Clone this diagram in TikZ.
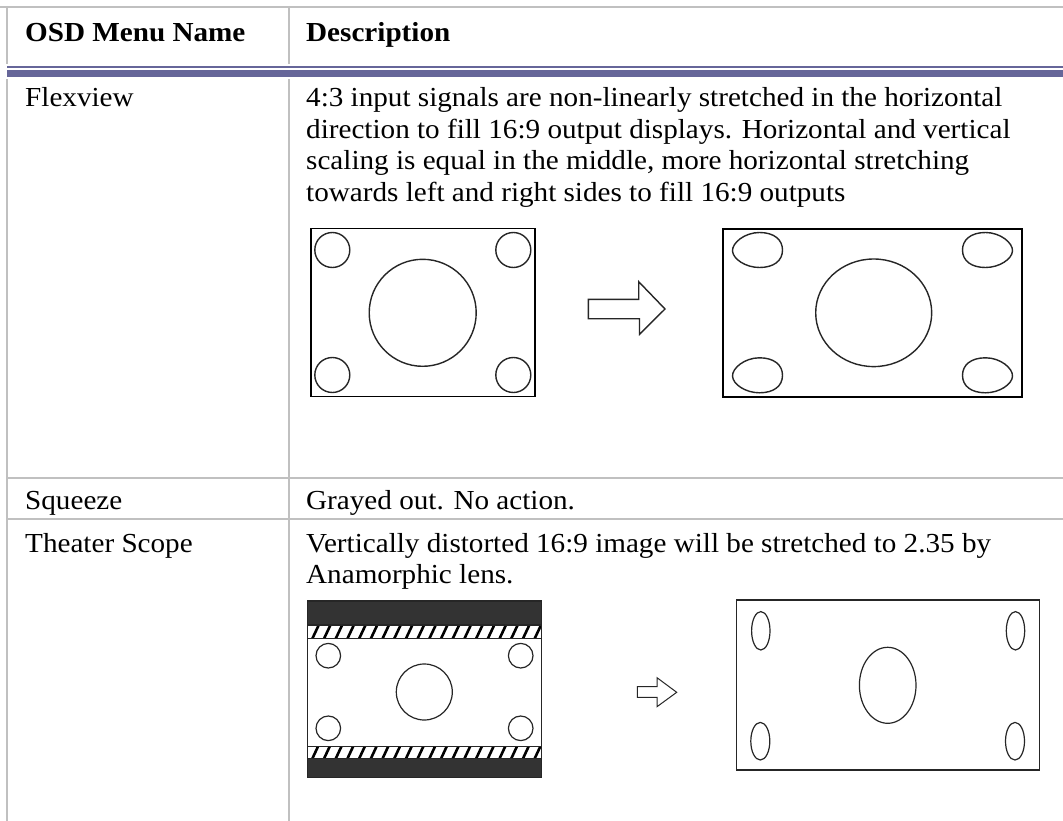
\documentclass[tikz,border=0pt]{standalone}
\usepackage{fontspec}
\setmainfont{Liberation Serif}[FakeStretch=1.06]
\definecolor{gridgray}{HTML}{C0C0C0}
\definecolor{hdrpurple}{HTML}{666699}
\definecolor{banddark}{HTML}{333333}
\tikzset{
  txt/.style={anchor=base west, inner sep=0pt, font=\fontsize{27.5}{31.5}\selectfont},
  hdr/.style={txt, font=\fontsize{27.5}{31.5}\selectfont\bfseries},
  grid/.style={draw=gridgray, line width=2pt},
  frame/.style={draw=black, line width=1.8pt},
  thin/.style={draw=black!85, line width=1.2pt},
  egg/.style={draw=black!85, line width=1.4pt},
  hatchline/.style={draw=black, line width=2.6pt}
}
\begin{document}
\begin{tikzpicture}[x=1pt,y=-1pt]
\useasboundingbox (0,0) rectangle (1063,821);
\fill[white] (0,0) rectangle (1063,821);

% table grid
\draw[grid] (0,7) -- (1063,7);
\draw[grid] (7,6) -- (7,821);
\draw[grid] (289,6) -- (289,821);
\draw[grid] (7,478) -- (1063,478);
\draw[grid] (7,519) -- (1063,519);
% header separator
\fill[white] (6,64) rectangle (1063,79);
\fill[hdrpurple] (7,66) rectangle (1063,67.6);
\fill[hdrpurple] (7,70) rectangle (1063,77.3);

% header texts
\node[hdr] (h1) at (25,42) {OSD Menu Name};
\node[hdr] (h2) at (306,42) {Description};

% row 1
\node[txt] (n1) at (25,106.7) {Flexview};
\node[txt] (d1a) at (306,106.7) {4:3 input signals are non-linearly stretched in the horizontal};
\node[txt] (d1b) at (306,138.2) {direction to fill 16:9 output displays. Horizontal and vertical};
\node[txt] (d1c) at (306,169.7) {scaling is equal in the middle, more horizontal stretching};
\node[txt] (d1d) at (306,201.2) {towards left and right sides to fill 16:9 outputs};

% row 2
\node[txt] (n2) at (25,509) {Squeeze};
\node[txt] (d2) at (306,509) {Grayed out. No action.};

% row 3
\node[txt] (n3) at (25,552) {Theater Scope};
\node[txt] (d3a) at (306,552) {Vertically distorted 16:9 image will be stretched to 2.35 by};
\node[txt] (d3b) at (306,583.5) {Anamorphic lens.};

% ---- Flexview: 4:3 source
\draw[frame] (311,228.5) rectangle (535,396.5);
\draw[egg] (332.3,250) circle[radius=17.5pt];
\draw[egg] (513.3,250) circle[radius=17.5pt];
\draw[egg] (332.3,375) circle[radius=17.5pt];
\draw[egg] (513.3,375) circle[radius=17.5pt];
\draw[egg] (422.7,312.8) circle[radius=53.5pt];

% big arrow
\draw[thin, line width=1.4pt] (588.3,299.3) -- (638.7,299.3) -- (638.7,281.7) -- (665,309)
  -- (639.5,334.3) -- (639.5,318.7) -- (588.3,318.7) -- cycle;

% ---- Flexview: 16:9 output
\draw[frame] (723,229) rectangle (1021.7,396.7);
\draw[egg] (873.7,312.8) ellipse[x radius=58pt, y radius=53.8pt];
\foreach \cx/\cy/\sx in {757.5/250/1, 757.5/375.3/1, 987.5/250/-1, 987.5/375.3/-1}{
  \begin{scope}[shift={(\cx,\cy)}, xscale=\sx]
    \draw[egg] (-25,1) .. controls (-25.5,-7) and (-13,-17.5) .. (2,-17.5)
      .. controls (17,-17.5) and (25,-10) .. (25,0)
      .. controls (25,11) and (16,17.5) .. (2,17.5)
      .. controls (-12,17.5) and (-24.5,9) .. (-25,1) -- cycle;
  \end{scope}
}

% ---- Theater Scope: source with bars
\fill[banddark] (307.3,601) rectangle (541.7,625);
\fill[banddark] (307.3,758.3) rectangle (541.7,777.3);
\begin{scope}
  \clip (307.3,625) rectangle (541.7,638.3);
  \foreach \k in {0,...,21}{
    \draw[hatchline] ({300+11.7*\k},640) -- ({308+11.7*\k},623);
  }
\end{scope}
\begin{scope}
  \clip (307.3,746.7) rectangle (541.7,758.3);
  \foreach \k in {0,...,21}{
    \draw[hatchline] ({300+11.7*\k},760) -- ({307+11.7*\k},745);
  }
\end{scope}
\draw[thin] (307.3,625) -- (541.7,625);
\draw[thin] (307.3,638.3) -- (541.7,638.3);
\draw[thin] (307.3,746.7) -- (541.7,746.7);
\draw[thin] (307.3,758.3) -- (541.7,758.3);
\draw[thin] (307.3,601) rectangle (541.7,777.3);
\draw[thin] (328.3,655.7) circle[radius=12.3pt];
\draw[thin] (520.7,655.7) circle[radius=12.3pt];
\draw[thin] (328.3,728.3) circle[radius=12.3pt];
\draw[thin] (520.7,728.3) circle[radius=12.3pt];
\draw[thin] (424.3,692) circle[radius=28pt];

% small arrow
\draw[thin, line width=1pt] (637.3,686.7) -- (657,686.7) -- (657,677.7) -- (676.7,692.3)
  -- (657,706.7) -- (657,697.3) -- (637.3,697.3) -- cycle;

% ---- Theater Scope: 2.35 output
\draw[thin] (736.5,600) rectangle (1039.5,770);
\draw[thin] (760.8,630.8) ellipse[x radius=9.2pt, y radius=19.2pt];
\draw[thin] (1015.5,630.8) ellipse[x radius=9.2pt, y radius=19.2pt];
\draw[thin] (760.3,741.2) ellipse[x radius=9.5pt, y radius=18.8pt];
\draw[thin] (1015,741.2) ellipse[x radius=9.5pt, y radius=18.8pt];
\draw[thin] (887.7,685.3) ellipse[x radius=28.3pt, y radius=38pt];
\end{tikzpicture}
\end{document}
